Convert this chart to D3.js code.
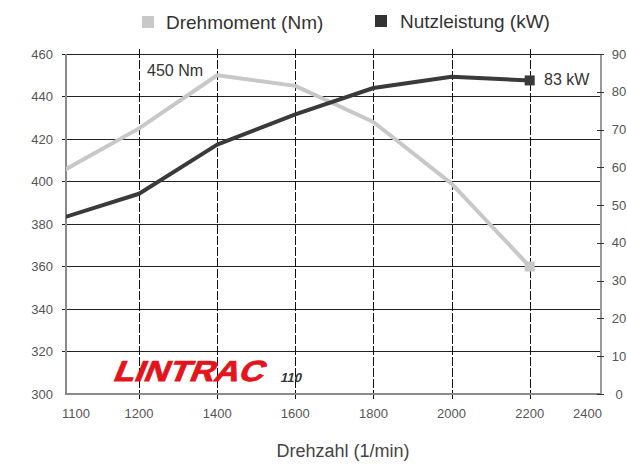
<!DOCTYPE html>
<html>
<head>
<meta charset="utf-8">
<script src="https://cdn.jsdelivr.net/npm/d3@7"></script>
<style>
  body { margin: 0; background: #fff; }
  svg { display: block; font-family: "Liberation Sans", Arial, sans-serif; }
</style>
</head>
<body>
<svg id="chart" width="627" height="464"></svg>
<script>
// ---- data ----
const rpm = [1000, 1200, 1400, 1600, 1800, 2000, 2200];
const torqueNm = [404.5, 425, 450, 445, 428, 399, 360];
const powerKW = [46.5, 53, 66, 74, 81, 84, 83];
const seriesNames = ["Drehmoment (Nm)", "Nutzleistung (kW)"];
const gridRpm = [1200, 1400, 1600, 1800, 2000, 2200];
const xTickLabels = ["1100", "1200", "1400", "1600", "1800", "2000", "2200", "2400"];
const leftTicks = [300, 320, 340, 360, 380, 400, 420, 440, 460];
const rightTicks = [0, 10, 20, 30, 40, 50, 60, 70, 80, 90];
const annotations = ["450 Nm", "83 kW"];
const axisTitle = "Drehzahl (1/min)";
const brand = "LINTRAC";
const model = "110";

// ---- layout ----
const W = 627, H = 464;
const plot = { left: 66, right: 600, top: 54, bottom: 394 };
const colTorque = "#c8c8c8", colPower = "#3a3a3a";
const svg = d3.select("#chart");

const x = d3.scaleLinear().domain([1013, 2380]).range([plot.left, plot.right]);
const yL = d3.scaleLinear().domain([300, 460]).range([plot.bottom, plot.top]);
const yR = d3.scaleLinear().domain([0, 90]).range([plot.bottom, plot.top]);

// horizontal gridlines (left axis)
svg.append("g").selectAll("line").data(leftTicks.filter(d => d > 300)).join("line")
  .attr("x1", plot.left - 4).attr("x2", plot.right)
  .attr("y1", d => yL(d)).attr("y2", d => yL(d))
  .attr("stroke", "#222").attr("stroke-width", 1).attr("shape-rendering", "crispEdges");

// vertical dashed gridlines
svg.append("g").selectAll("line").data(gridRpm).join("line")
  .attr("x1", d => Math.round(x(d)) + 0.5).attr("x2", d => Math.round(x(d)) + 0.5)
  .attr("y1", plot.top - 5).attr("y2", plot.bottom + 6)
  .attr("stroke", "#111").attr("stroke-width", 1).attr("stroke-dasharray", "9,2");

// left axis line & bottom axis line (gray)
svg.append("line").attr("x1", plot.left).attr("x2", plot.left)
  .attr("y1", plot.top).attr("y2", plot.bottom + 1)
  .attr("stroke", "#8a8a8a").attr("stroke-width", 2);
svg.append("line").attr("x1", plot.left).attr("x2", plot.right)
  .attr("y1", plot.bottom).attr("y2", plot.bottom)
  .attr("stroke", "#8a8a8a").attr("stroke-width", 2);

// right axis
const rightAxis = d3.axisRight(yR).tickValues(rightTicks).tickSize(0).tickFormat("");
svg.append("g").attr("transform", `translate(${plot.right + 0.5},0)`).call(rightAxis)
  .call(g => g.select(".domain").attr("stroke", "#333"));
svg.append("g").selectAll("line").data(rightTicks).join("line")
  .attr("x1", plot.right - 3).attr("x2", plot.right + 4)
  .attr("y1", d => Math.round(yR(d)) + 0.5).attr("y2", d => Math.round(yR(d)) + 0.5)
  .attr("stroke", "#333");
svg.append("g").selectAll("text").data(rightTicks).join("text")
  .attr("x", 619).attr("y", d => yR(d)).attr("dy", "0.35em")
  .attr("text-anchor", "middle").attr("font-size", 13).attr("fill", "#555")
  .text(d => d);

// left tick labels
svg.append("g").selectAll("text").data(leftTicks).join("text")
  .attr("x", 53).attr("y", d => yL(d)).attr("dy", "0.35em")
  .attr("text-anchor", "end").attr("font-size", 13).attr("fill", "#555")
  .text(d => d);

// x tick labels
const xLabelPos = xTickLabels.map((t, i) => {
  if (i === 0) return { t, x: plot.left - 4, anchor: "start" };
  if (i === xTickLabels.length - 1) return { t, x: plot.right + 2, anchor: "end" };
  return { t, x: x(+t), anchor: "middle" };
});
svg.append("g").selectAll("text").data(xLabelPos).join("text")
  .attr("x", d => d.x).attr("y", 418).attr("text-anchor", d => d.anchor)
  .attr("font-size", 13).attr("fill", "#555").text(d => d.t);

// axis title
svg.append("text").attr("x", 343).attr("y", 457).attr("text-anchor", "middle")
  .attr("font-size", 18).attr("fill", "#444").text(axisTitle);

// logo
svg.append("text").attr("transform", `translate(112,381) skewX(-22)`)
  .attr("font-size", 29).attr("font-weight", "bold").attr("fill", "#e3141c")
  .attr("stroke", "#e3141c").attr("stroke-width", 0.8)
  .attr("textLength", 150).attr("lengthAdjust", "spacingAndGlyphs").text(brand);
svg.append("text").attr("transform", `translate(280,382) skewX(-14)`)
  .attr("font-size", 13).attr("font-weight", "bold").attr("fill", "#333").text(model);

// clip
svg.append("clipPath").attr("id", "clip").append("rect")
  .attr("x", plot.left).attr("y", 0).attr("width", plot.right - plot.left).attr("height", H);

const line = d3.line().x(d => x(d[0])).y(d => d[1]);
const torquePts = rpm.map((r, i) => [r, yL(torqueNm[i])]);
const powerPts = rpm.map((r, i) => [r, yR(powerKW[i])]);

const lines = svg.append("g").attr("clip-path", "url(#clip)");
lines.append("path").attr("d", line(torquePts)).attr("fill", "none")
  .attr("stroke", colTorque).attr("stroke-width", 4).attr("stroke-linejoin", "round");
lines.append("path").attr("d", line(powerPts)).attr("fill", "none")
  .attr("stroke", colPower).attr("stroke-width", 4).attr("stroke-linejoin", "round");

// end markers
const last = rpm.length - 1;
svg.append("rect").attr("x", x(rpm[last]) - 5).attr("y", yL(torqueNm[last]) - 5)
  .attr("width", 10).attr("height", 10).attr("fill", colTorque);
svg.append("rect").attr("x", x(rpm[last]) - 5).attr("y", yR(powerKW[last]) - 5)
  .attr("width", 10).attr("height", 10).attr("fill", colPower);

// annotations
svg.append("text").attr("x", 147).attr("y", 76).attr("font-size", 16).attr("fill", "#333")
  .text(annotations[0]);
svg.append("text").attr("x", 544).attr("y", 85).attr("font-size", 16).attr("fill", "#333")
  .text(annotations[1]);

// legend
const legend = [
  { name: seriesNames[0], color: colTorque, sx: 142, sy: 16, tx: 166, ty: 29 },
  { name: seriesNames[1], color: "#333", sx: 375, sy: 15, tx: 400, ty: 28 }
];
const lg = svg.append("g").selectAll("g").data(legend).join("g");
lg.append("rect").attr("x", d => d.sx).attr("y", d => d.sy).attr("width", 12).attr("height", 12)
  .attr("fill", d => d.color);
lg.append("text").attr("x", d => d.tx).attr("y", d => d.ty).attr("font-size", 19)
  .attr("fill", "#333").text(d => d.name);
</script>
</body>
</html>
